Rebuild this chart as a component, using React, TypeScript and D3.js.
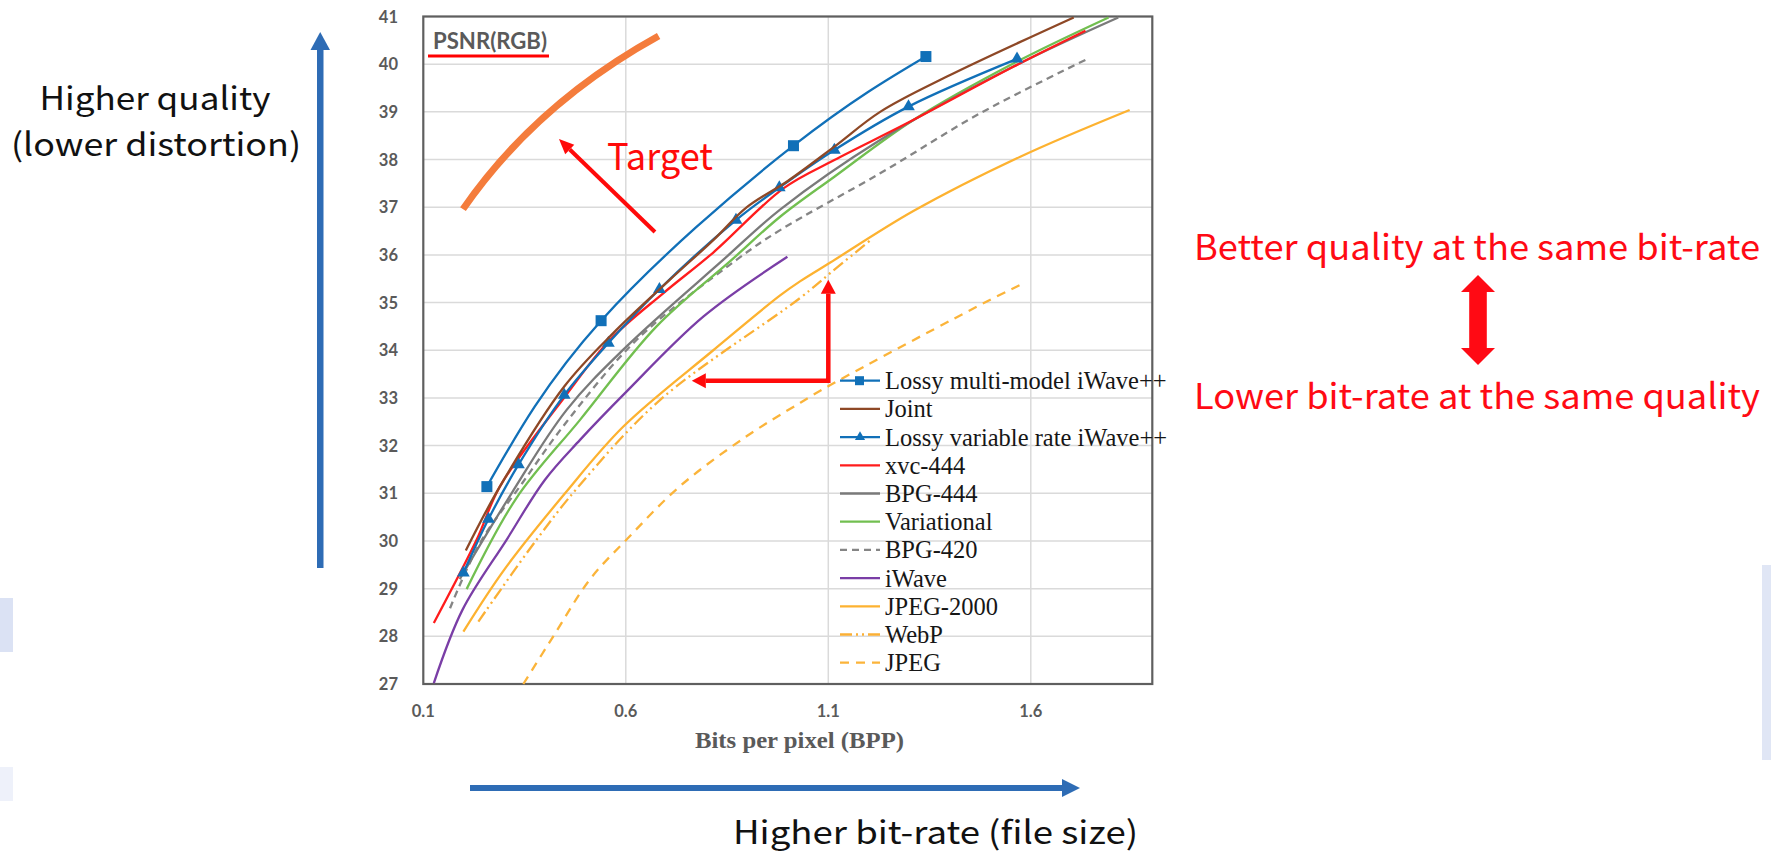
import React, { useEffect, useRef } from "react";
import * as d3 from "d3";

const W = 1771;
const H = 853;

// axis ticks
const xTicks = [0.1, 0.6, 1.1, 1.6];
const yTicks = [27, 28, 29, 30, 31, 32, 33, 34, 35, 36, 37, 38, 39, 40, 41];

// series values (bpp, PSNR dB)
const multiModelBpp = [0.257, 0.539, 1.014, 1.341];
const multiModelPsnr = [31.14, 34.62, 38.29, 40.16];

const jointBpp = [0.205, 0.289, 0.448, 0.569, 0.709, 0.816, 0.899, 1.0, 1.115, 1.228, 1.393, 1.706];
const jointPsnr = [29.8, 31.14, 33.24, 34.36, 35.48, 36.31, 37.0, 37.55, 38.27, 39.0, 39.74, 40.98];

const variableBpp = [0.199, 0.261, 0.335, 0.448, 0.557, 0.683, 0.872, 0.979, 1.115, 1.298, 1.566];
const variablePsnr = [29.33, 30.46, 31.6, 33.06, 34.15, 35.28, 36.73, 37.41, 38.2, 39.11, 40.11];

const xvcBpp = [0.126, 0.232, 0.289, 0.45, 0.561, 0.693, 0.816, 0.99, 1.115, 1.294, 1.558, 1.735];
const xvcPsnr = [28.28, 30.03, 31.14, 33.03, 34.22, 35.2, 36.05, 37.4, 37.99, 38.76, 39.95, 40.7];

const bpg444Bpp = [0.19, 0.318, 0.454, 0.602, 0.841, 0.981, 1.228, 1.557, 1.816];
const bpg444Psnr = [29.2, 31.0, 32.75, 34.08, 35.9, 36.95, 38.41, 39.95, 40.98];

const variationalBpp = [0.207, 0.33, 0.487, 0.676, 0.862, 0.981, 1.115, 1.31, 1.558, 1.792];
const variationalPsnr = [28.99, 30.9, 32.54, 34.5, 35.9, 36.8, 37.64, 38.83, 40.02, 40.98];

const bpg420Bpp = [0.166, 0.24, 0.339, 0.454, 0.627, 0.874, 0.981, 1.228, 1.475, 1.735];
const bpg420Psnr = [28.59, 29.96, 31.15, 32.5, 34.22, 35.9, 36.52, 37.71, 38.97, 40.09];

const iwaveBpp = [0.126, 0.197, 0.306, 0.4, 0.487, 0.598, 0.792, 0.999];
const iwavePsnr = [27.02, 28.56, 30.03, 31.28, 32.12, 33.1, 34.71, 35.96];

const j2kBpp = [0.199, 0.3, 0.45, 0.594, 0.816, 0.981, 1.031, 1.105, 1.31, 1.574, 1.844];
const j2kPsnr = [28.1, 29.4, 31.0, 32.4, 34.0, 35.15, 35.45, 35.84, 36.92, 38.06, 39.04];

const webpBpp = [0.236, 0.38, 0.487, 0.685, 1.031, 1.105, 1.203];
const webpPsnr = [28.31, 30.03, 31.18, 32.96, 35.1, 35.62, 36.3];

const jpegBpp = [0.347, 0.421, 0.512, 0.602, 0.734, 0.899, 1.031, 1.105, 1.5, 1.574];
const jpegPsnr = [27.0, 28.0, 29.2, 30.03, 31.15, 32.2, 32.9, 33.27, 35.06, 35.37];

// hand-drawn "target" arc: start, control point, end
const targetBpp = [0.198, 0.378, 0.681];
const targetPsnr = [36.96, 39.17, 40.59];

const series = [
  { name: "Lossy multi-model iWave++", bpp: multiModelBpp, psnr: multiModelPsnr, color: "#1170b8", dash: null, marker: "square", curve: d3.curveNatural },
  { name: "Joint", bpp: jointBpp, psnr: jointPsnr, color: "#8e4826", dash: null, marker: null, curve: d3.curveCatmullRom },
  { name: "Lossy variable rate iWave++", bpp: variableBpp, psnr: variablePsnr, color: "#1170b8", dash: null, marker: "triangle", curve: d3.curveCatmullRom },
  { name: "xvc-444", bpp: xvcBpp, psnr: xvcPsnr, color: "#ff1c1c", dash: null, marker: null, curve: d3.curveCatmullRom },
  { name: "BPG-444", bpp: bpg444Bpp, psnr: bpg444Psnr, color: "#7a7a7a", dash: null, marker: null, curve: d3.curveCatmullRom },
  { name: "Variational", bpp: variationalBpp, psnr: variationalPsnr, color: "#72bf50", dash: null, marker: null, curve: d3.curveCatmullRom },
  { name: "BPG-420", bpp: bpg420Bpp, psnr: bpg420Psnr, color: "#858585", dash: "7,5", marker: null, curve: d3.curveCatmullRom },
  { name: "iWave", bpp: iwaveBpp, psnr: iwavePsnr, color: "#7a3ea6", dash: null, marker: null, curve: d3.curveCatmullRom },
  { name: "JPEG-2000", bpp: j2kBpp, psnr: j2kPsnr, color: "#fdb230", dash: null, marker: null, curve: d3.curveCatmullRom },
  { name: "WebP", bpp: webpBpp, psnr: webpPsnr, color: "#fbb035", dash: "12,4,2,4,2,4", marker: null, curve: d3.curveCatmullRom },
  { name: "JPEG", bpp: jpegBpp, psnr: jpegPsnr, color: "#fbb43a", dash: "9,7", marker: null, curve: d3.curveCatmullRom },
];

const annoFont = "'Noto Sans CJK SC', 'Noto Sans', sans-serif";

function arrowHead(g, tipX, tipY, fromX, fromY, len, half, color) {
  const dx = tipX - fromX, dy = tipY - fromY;
  const l = Math.sqrt(dx * dx + dy * dy);
  const ux = dx / l, uy = dy / l;
  const bx = tipX - ux * len, by = tipY - uy * len;
  g.append("path")
    .attr("d", `M${tipX},${tipY}L${bx - uy * half},${by + ux * half}L${bx + uy * half},${by - ux * half}Z`)
    .attr("fill", color);
  return [bx, by];
}

export default function App() {
  const ref = useRef(null);

  useEffect(() => {
    const svg = d3.select(ref.current);
    svg.selectAll("*").remove();

    const x = d3.scaleLinear().domain([0.1, 1.9]).range([423.3, 1152.3]);
    const y = d3.scaleLinear().domain([27, 41]).range([684, 16.5]);

    // faint slide decorations at the edges
    svg.append("rect").attr("x", 0).attr("y", 598).attr("width", 13).attr("height", 54).attr("fill", "#dbe2f4");
    svg.append("rect").attr("x", 0).attr("y", 767).attr("width", 13).attr("height", 34).attr("fill", "#eef1fa");
    svg.append("rect").attr("x", 1762).attr("y", 565).attr("width", 9).attr("height", 195).attr("fill", "#e0e6f5");

    const plot = svg.append("g");

    // gridlines
    plot.selectAll(".hgrid").data(yTicks).enter().append("line")
      .attr("x1", x(0.1)).attr("x2", x(1.9))
      .attr("y1", (d) => y(d)).attr("y2", (d) => y(d))
      .attr("stroke", "#dadada").attr("stroke-width", 1.5);
    plot.selectAll(".vgrid").data(xTicks.slice(1)).enter().append("line")
      .attr("x1", (d) => x(d)).attr("x2", (d) => x(d))
      .attr("y1", y(27)).attr("y2", y(41))
      .attr("stroke", "#dadada").attr("stroke-width", 1.5);

    // border
    plot.append("rect")
      .attr("x", x(0.1)).attr("y", y(41))
      .attr("width", x(1.9) - x(0.1)).attr("height", y(27) - y(41))
      .attr("fill", "none").attr("stroke", "#5f5f5f").attr("stroke-width", 2.2);

    // tick labels
    plot.selectAll(".ylab").data(yTicks).enter().append("text")
      .attr("x", 398).attr("y", (d) => y(d) + 6)
      .attr("text-anchor", "end")
      .attr("font-family", "Lato, 'Liberation Sans', sans-serif").attr("font-weight", 700)
      .attr("font-size", 16.5).attr("fill", "#5a5a5a")
      .text((d) => d);
    plot.selectAll(".xlab").data(xTicks).enter().append("text")
      .attr("x", (d) => x(d)).attr("y", 717)
      .attr("text-anchor", "middle")
      .attr("font-family", "Lato, 'Liberation Sans', sans-serif").attr("font-weight", 700)
      .attr("font-size", 16.5).attr("fill", "#5a5a5a")
      .text((d) => d3.format(".1f")(d));

    plot.append("text")
      .attr("x", 695).attr("y", 748)
      .attr("font-family", "'Liberation Serif', serif").attr("font-weight", 700)
      .attr("font-size", 23.5).attr("fill", "#5a5a5a")
      .attr("textLength", 209).attr("lengthAdjust", "spacingAndGlyphs")
      .text("Bits per pixel (BPP)");

    // series lines
    const lines = plot.append("g");
    series.slice().reverse().forEach((s) => {
      const pts = s.bpp.map((b, i) => [b, s.psnr[i]]);
      const line = d3.line().x((d) => x(d[0])).y((d) => y(d[1])).curve(s.curve);
      lines.append("path")
        .attr("d", line(pts))
        .attr("fill", "none")
        .attr("stroke", s.color)
        .attr("stroke-width", 2.3)
        .attr("stroke-dasharray", s.dash)
        .attr("stroke-linejoin", "round");
      if (s.marker === "square") {
        lines.selectAll(null).data(pts).enter().append("rect")
          .attr("x", (d) => x(d[0]) - 5.5).attr("y", (d) => y(d[1]) - 5.5)
          .attr("width", 11).attr("height", 11).attr("fill", s.color);
      } else if (s.marker === "triangle") {
        lines.selectAll(null).data(pts).enter().append("path")
          .attr("d", d3.symbol(d3.symbolTriangle, 70)())
          .attr("transform", (d) => `translate(${x(d[0])},${y(d[1])})`)
          .attr("fill", s.color);
      }
    });

    // legend
    const leg = plot.append("g");
    series.forEach((s, i) => {
      const ry = 380.7 + i * 28.2;
      leg.append("line")
        .attr("x1", 840).attr("x2", 880).attr("y1", ry).attr("y2", ry)
        .attr("stroke", s.color).attr("stroke-width", 2.3)
        .attr("stroke-dasharray", s.dash);
      if (s.marker === "square") {
        leg.append("rect").attr("x", 855).attr("y", ry - 4.5).attr("width", 9).attr("height", 9).attr("fill", s.color);
      } else if (s.marker === "triangle") {
        leg.append("path").attr("d", d3.symbol(d3.symbolTriangle, 45)())
          .attr("transform", `translate(860,${ry})`).attr("fill", s.color);
      }
      leg.append("text")
        .attr("x", 885).attr("y", ry + 8.5)
        .attr("font-family", "'Liberation Serif', serif")
        .attr("font-size", 24.5).attr("fill", "#161616")
        .text(s.name);
    });

    // PSNR(RGB) tag
    svg.append("text")
      .attr("x", 433).attr("y", 49)
      .attr("font-family", "Lato, 'Liberation Sans', sans-serif").attr("font-weight", 700)
      .attr("font-size", 22).attr("fill", "#5a5a5a")
      .attr("textLength", 114).attr("lengthAdjust", "spacingAndGlyphs")
      .text("PSNR(RGB)");
    svg.append("line").attr("x1", 428).attr("x2", 549).attr("y1", 56).attr("y2", 56)
      .attr("stroke", "#ff0000").attr("stroke-width", 3.2);

    // target arc (quadratic curve)
    const arc = d3.path();
    arc.moveTo(x(targetBpp[0]), y(targetPsnr[0]));
    arc.quadraticCurveTo(x(targetBpp[1]), y(targetPsnr[1]), x(targetBpp[2]), y(targetPsnr[2]));
    svg.append("path")
      .attr("d", arc.toString())
      .attr("fill", "none").attr("stroke", "#f47c3c").attr("stroke-width", 7);

    const red = "#ff0a0a";
    // target arrow
    const tail = [x(0.672), y(36.48)];
    const tip = [x(0.435), y(38.43)];
    const base = arrowHead(svg, tip[0], tip[1], tail[0], tail[1], 15, 6.5, red);
    svg.append("line").attr("x1", tail[0]).attr("y1", tail[1]).attr("x2", base[0]).attr("y2", base[1])
      .attr("stroke", red).attr("stroke-width", 4);
    svg.append("text")
      .attr("x", 607).attr("y", 170)
      .attr("font-family", annoFont).attr("font-size", 37).attr("fill", red)
      .attr("textLength", 106).attr("lengthAdjust", "spacingAndGlyphs")
      .text("Target");

    // L-shaped arrow
    const cx = x(1.1), cy = y(33.36);
    const leftTip = x(0.763), topTip = y(35.48);
    const lb = arrowHead(svg, leftTip, cy, cx, cy, 14, 7.5, red);
    const tb = arrowHead(svg, cx, topTip, cx, cy, 14, 7.5, red);
    svg.append("path")
      .attr("d", `M${lb[0]},${cy}L${cx},${cy}L${cx},${tb[1]}`)
      .attr("fill", "none").attr("stroke", red).attr("stroke-width", 4.5);

    // blue axis arrows
    const blue = "#2e6cb5";
    svg.append("rect").attr("x", 317).attr("y", 48).attr("width", 6.5).attr("height", 520).attr("fill", blue);
    svg.append("path").attr("d", "M320.2,32L310.5,50L330,50Z").attr("fill", blue);
    svg.append("rect").attr("x", 470).attr("y", 785).attr("width", 594).attr("height", 6).attr("fill", blue);
    svg.append("path").attr("d", "M1080,788L1062,779L1062,797Z").attr("fill", blue);

    // red double arrow
    svg.append("path")
      .attr("d", "M1478,275L1495,292L1486.8,292L1486.8,348L1495,348L1478,365L1461,348L1469.2,348L1469.2,292L1461,292Z")
      .attr("fill", "#ff0a14");

    // annotation texts
    const addText = (t, tx, ty, size, len, color) =>
      svg.append("text")
        .attr("x", tx).attr("y", ty)
        .attr("font-family", annoFont).attr("font-size", size).attr("fill", color)
        .attr("textLength", len).attr("lengthAdjust", "spacingAndGlyphs")
        .text(t);
    addText("Higher quality", 39.5, 110, 32, 231, "#111");
    addText("(lower distortion)", 11, 156, 32, 290, "#111");
    addText("Higher bit-rate (file size)", 733, 844, 32, 405, "#111");
    addText("Better quality at the same bit-rate", 1194, 260, 35, 566, "#ff0a14");
    addText("Lower bit-rate at the same quality", 1194, 409, 35, 566, "#ff0a14");
  }, []);

  return (
    <svg
      ref={ref}
      width={W}
      height={H}
      style={{ position: "absolute", left: 0, top: 0, display: "block", background: "#fff" }}
    />
  );
}
